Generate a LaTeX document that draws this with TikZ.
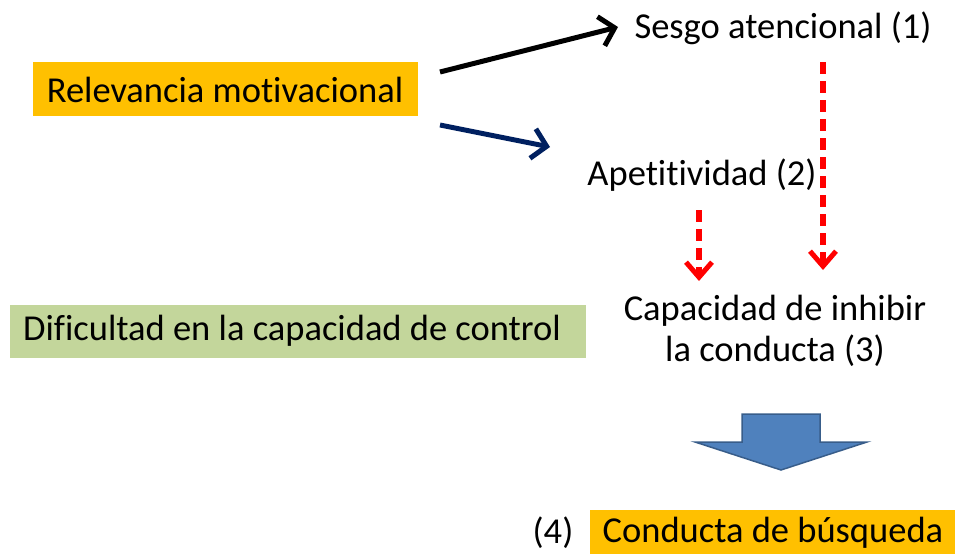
\documentclass[tikz,border=0pt]{standalone}
\usepackage{fontspec}
\setmainfont{Carlito}[Ligatures=NoCommon]
\usetikzlibrary{arrows.meta}
\definecolor{boxorange}{HTML}{FFC000}
\definecolor{boxgreen}{HTML}{C3D69B}
\definecolor{navyarrow}{HTML}{002060}
\definecolor{blockfill}{HTML}{4F81BD}
\definecolor{blockline}{HTML}{385D8A}
\definecolor{dashred}{HTML}{FF0000}
\tikzset{
  lbl/.style={inner sep=0pt, font=\fontsize{36.5}{41}\selectfont, text=black},
  boxlbl/.style={lbl},
  solidarrow/.style={line width=5pt, -{Straight Barb[length=14pt,width=30pt,line width=5pt]}},
  redarrow/.style={line width=5.5pt, color=dashred, dash pattern=on 12pt off 7pt,
     -{Straight Barb[length=15pt,width=26pt,line width=5pt]}},
}
\begin{document}
\begin{tikzpicture}[x=1pt,y=-1pt]
\useasboundingbox (0,0) rectangle (962,554);
% boxes
\fill[boxorange] (33,62) rectangle (418,116);
\fill[boxgreen] (10,305) rectangle (586,358);
\fill[boxorange] (590,510) rectangle (955,554);
% texts
\node[boxlbl] (rel) at (225,90) {Relevancia motivacional};
\node[boxlbl] (dif) at (292,331) {Dificultad en la capacidad de control};
\node[boxlbl] (cb) at (773,533) {Conducta de búsqueda};
\node[lbl] (n4) at (553,533) {(4)};
\node[lbl] (sesgo) at (783,28) {Sesgo atencional (1)};
\node[lbl] (apet) at (702,175) {Apetitividad (2)};
\node[lbl, align=center] (cap) at (775,331) {Capacidad de inhibir\\la conducta (3)};
% coordinates for connectors
\coordinate (a1s) at (440,72);
\coordinate (a1e) at (618,27);
\coordinate (a2s) at (440,125);
\coordinate (a2e) at (550,147);
\coordinate (r1s) at (823,62);
\coordinate (r1e) at (823,270);
\coordinate (r2s) at (699,210);
\coordinate (r2e) at (699,281);
\draw[solidarrow, black] (a1s) -- (a1e);
\draw[solidarrow, navyarrow] (a2s) -- (a2e);
\draw[redarrow] (r1s) -- (r1e);
\draw[redarrow] (r2s) -- (r2e);
% block arrow
\draw[fill=blockfill, draw=blockline, line width=1.5pt, line join=miter]
  (742,414) -- (820,414) -- (820,442) -- (867,442) -- (781,470) -- (695,442) -- (742,442) -- cycle;
\end{tikzpicture}
\end{document}
